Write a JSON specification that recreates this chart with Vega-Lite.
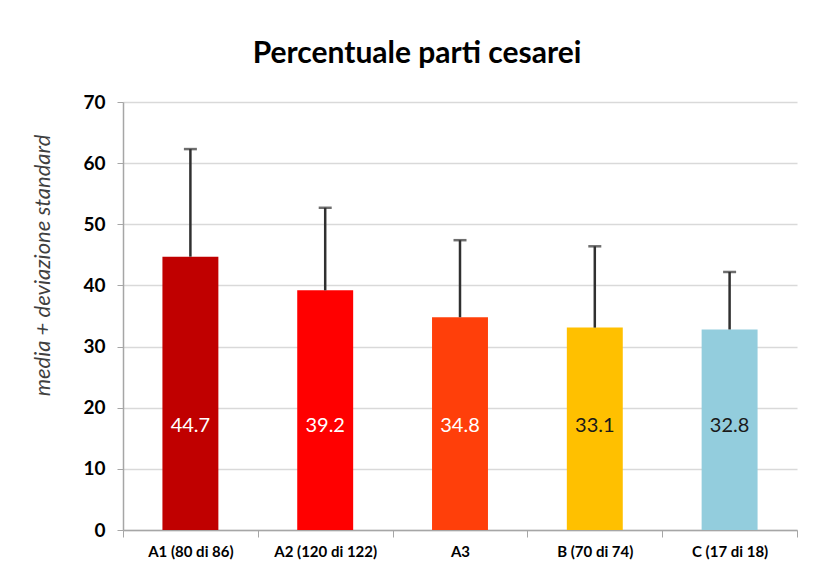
{
  "$schema": "https://vega.github.io/schema/vega-lite/v6.json",
  "autosize": {"type": "none"},
  "width": 674,
  "height": 428,
  "padding": {"left": 123, "top": 102, "right": 16, "bottom": 44},
  "background": "white",
  "title": {
    "text": "Percentuale parti cesarei",
    "font": "Lato",
    "fontSize": 30,
    "fontWeight": "bold",
    "color": "#000000",
    "anchor": "middle",
    "dx": -43,
    "offset": 24
  },
  "config": {
    "view": {"stroke": null},
    "font": "Lato"
  },
  "data": {
    "values": [
      {"group": "A1 (80 di 86)", "value": 44.7, "upper": 62.3},
      {"group": "A2 (120 di 122)", "value": 39.2, "upper": 52.7},
      {"group": "A3", "value": 34.8, "upper": 47.4},
      {"group": "B (70 di 74)", "value": 33.1, "upper": 46.4},
      {"group": "C (17 di 18)", "value": 32.8, "upper": 42.2}
    ]
  },
  "encoding": {
    "x": {
      "field": "group",
      "type": "nominal",
      "sort": null,
      "scale": {"paddingInner": 0, "paddingOuter": 0},
      "axis": {
        "title": null,
        "labelAngle": 0,
        "labelFont": "Lato",
        "labelFontSize": 15,
        "labelFontWeight": "bold",
        "labelColor": "#000000",
        "labelPadding": 7,
        "tickBand": "extent",
        "tickSize": 7,
        "tickColor": "#A6A6A6",
        "domainColor": "#A6A6A6",
        "domainWidth": 1.5,
        "grid": false
      }
    }
  },
  "layer": [
    {
      "mark": {"type": "bar", "width": {"band": 0.415}},
      "encoding": {
        "y": {
          "field": "value",
          "type": "quantitative",
          "scale": {"domain": [0, 70], "nice": false},
          "axis": {
            "values": [0, 10, 20, 30, 40, 50, 60, 70],
            "title": "media + deviazione standard",
            "titleFont": "Lato",
            "titleFontSize": 22,
            "titleFontWeight": "normal",
            "titleFontStyle": "italic",
            "titleColor": "#404040",
            "titleAngle": -90,
            "titleX": -81,
            "titleY": 163,
            "titleAlign": "center",
            "titleBaseline": "middle",
            "labelFont": "Lato",
            "labelFontSize": 19,
            "labelFontWeight": "bold",
            "labelColor": "#000000",
            "labelPadding": 12,
            "tickSize": 6,
            "tickColor": "#A6A6A6",
            "domainColor": "#A6A6A6",
            "domainWidth": 1.5,
            "gridColor": "#D9D9D9",
            "gridWidth": 1.5
          }
        },
        "color": {
          "field": "group",
          "type": "nominal",
          "sort": null,
          "scale": {
            "domain": ["A1 (80 di 86)", "A2 (120 di 122)", "A3", "B (70 di 74)", "C (17 di 18)"],
            "range": ["#C00000", "#FF0000", "#FF3F0A", "#FFC000", "#93CDDD"]
          },
          "legend": null
        }
      }
    },
    {
      "mark": {"type": "rule", "color": "#303030", "strokeWidth": 2.5},
      "encoding": {
        "y": {"field": "value", "type": "quantitative"},
        "y2": {"field": "upper"}
      }
    },
    {
      "mark": {"type": "tick", "color": "#303030", "thickness": 2.5, "size": 13},
      "encoding": {
        "y": {"field": "upper", "type": "quantitative"}
      }
    },
    {
      "mark": {"type": "text", "font": "Lato", "fontSize": 20, "baseline": "middle"},
      "encoding": {
        "y": {"datum": 17},
        "text": {"field": "value", "type": "quantitative", "format": ".1f"},
        "color": {
          "condition": {"test": "datum.value > 34", "value": "#FFFFFF"},
          "value": "#1A1A1A"
        }
      }
    }
  ]
}
